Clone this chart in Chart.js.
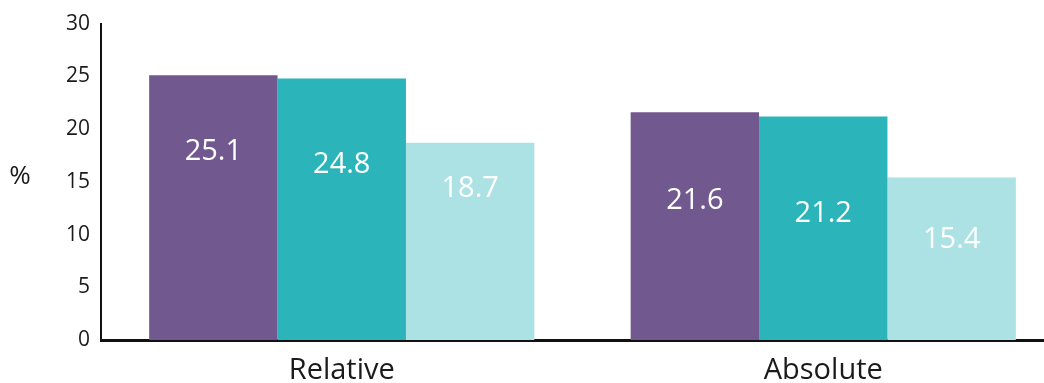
<!DOCTYPE html>
<html>
<head>
<meta charset="utf-8">
<script src="https://cdn.jsdelivr.net/npm/chart.js@4/dist/chart.umd.min.js"></script>
<style>
    html, body { margin: 0; padding: 0; background: #fff; overflow: hidden; }
    #wrap { width: 1044px; height: 383px; overflow: hidden; }
</style>
</head>
<body>
<div id="wrap"><canvas id="chart" width="1064" height="383"></canvas></div>
<script>
// Categories and series
const categories = ['Relative', 'Absolute'];
const seriesA = [25.1, 21.6];
const seriesB = [24.8, 21.2];
const seriesC = [18.7, 15.4];
const yTicks = [0, 5, 10, 15, 20, 25, 30];

// Where each value label sits, as a share of its bar's height
const labelShare = [
    [0.71, 0.61],
    [0.67, 0.565],
    [0.765, 0.615]
];

const FONT = '"Open Sans", Lato, sans-serif';

// Draws the values inside the bars and the upright "%" axis title
const barLabels = {
    id: 'barLabels',
    afterDatasetsDraw(chart) {
        const ctx = chart.ctx;
        const y = chart.scales.y;
        ctx.save();
        ctx.fillStyle = '#ffffff';
        ctx.font = '29px ' + FONT;
        ctx.textAlign = 'center';
        ctx.textBaseline = 'middle';
        chart.data.datasets.forEach(function(ds, i) {
            chart.getDatasetMeta(i).data.forEach(function(bar, j) {
                const v = ds.data[j];
                ctx.fillText(v.toFixed(1), bar.x, y.getPixelForValue(v * labelShare[i][j]));
            });
        });
        ctx.fillStyle = '#1a1a1a';
        ctx.font = '26px ' + FONT;
        ctx.fillText('%', 20, 177);
        ctx.restore();
    }
};

new Chart(document.getElementById('chart'), {
    type: 'bar',
    data: {
        labels: categories,
        datasets: [
            { data: seriesA, backgroundColor: '#715990' },
            { data: seriesB, backgroundColor: '#2bb5bb' },
            { data: seriesC, backgroundColor: '#ade2e4' }
        ]
    },
    options: {
        responsive: false,
        animation: false,
        events: [],
        categoryPercentage: 0.8,
        barPercentage: 1.0,
        layout: { padding: { left: 0, right: 0, top: 18, bottom: 0 } },
        plugins: {
            legend: { display: false },
            tooltip: { enabled: false }
        },
        scales: {
            x: {
                afterFit(axis) { axis.height = 43; },
                grid: { display: false, drawTicks: false },
                border: { display: true, color: '#111', width: 3 },
                ticks: {
                    color: '#1a1a1a',
                    padding: 13,
                    font: { family: FONT, size: 29 }
                }
            },
            y: {
                min: 0,
                max: 30,
                afterBuildTicks(axis) {
                    axis.ticks = yTicks.map(function(v) { return { value: v }; });
                },
                afterFit(axis) { axis.width = 101; },
                grid: { display: false, drawTicks: false },
                border: { display: true, color: '#111', width: 2 },
                ticks: {
                    color: '#1a1a1a',
                    padding: 11,
                    font: { family: FONT, size: 21 }
                }
            }
        }
    },
    plugins: [barLabels]
});
</script>
</body>
</html>
